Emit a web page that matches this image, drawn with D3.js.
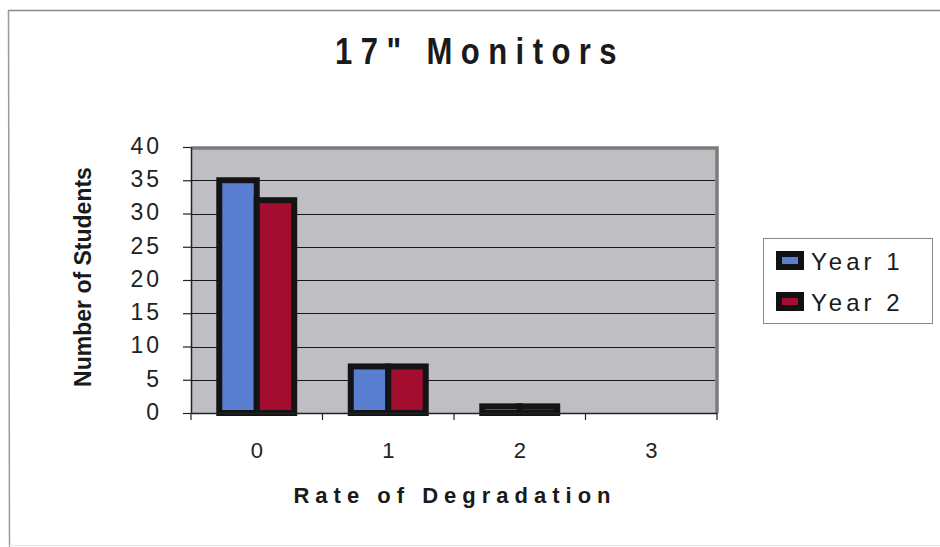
<!DOCTYPE html>
<html>
<head>
<meta charset="utf-8">
<script src="https://cdn.jsdelivr.net/npm/d3@7"></script>
<style>
  html, body { margin: 0; padding: 0; background: #fff; }
  svg { display: block; }
</style>
</head>
<body>
<svg id="chart" width="940" height="547"></svg>
<script>
// Rate of degradation categories and student counts per year
const categories = ["0", "1", "2", "3"];
const seriesNames = ["Year 1", "Year 2"];
const year1 = [35, 7, 1, 0];
const year2 = [32, 7, 1, 0];
const yTicks = [0, 5, 10, 15, 20, 25, 30, 35, 40];

const colors = { "Year 1": "#5a7fd2", "Year 2": "#a30e30" };

const svg = d3.select("#chart");
const W = 940, H = 547;
const plot = { left: 191, right: 717, top: 147, bottom: 413 };

// outer chart frame (top and left edges visible)
svg.append("line").attr("x1", 8).attr("x2", W).attr("y1", 10.5).attr("y2", 10.5)
  .attr("stroke", "#8a8a8a").attr("stroke-width", 1.5);
svg.append("line").attr("x1", 8.5).attr("x2", 9.5).attr("y1", 10).attr("y2", H)
  .attr("stroke", "#9a9a9a").attr("stroke-width", 1.5);
svg.append("line").attr("x1", 9).attr("x2", W).attr("y1", 545.5).attr("y2", 545.5)
  .attr("stroke", "#e4e4e4").attr("stroke-width", 1);

const x0 = d3.scaleBand().domain(categories).range([plot.left, plot.right]).paddingInner(0).paddingOuter(0);
const groupW = x0.bandwidth() * 0.57;
const x1 = d3.scaleBand().domain(seriesNames).range([0, groupW]);
const y = d3.scaleLinear().domain([0, 40]).range([plot.bottom, plot.top]);

// plot background
svg.append("rect")
  .attr("x", plot.left).attr("y", plot.top)
  .attr("width", plot.right - plot.left).attr("height", plot.bottom - plot.top)
  .attr("fill", "#bfbec3");

// horizontal gridlines
svg.append("g").selectAll("line")
  .data(yTicks.filter(t => t > 0 && t < 40))
  .join("line")
  .attr("x1", plot.left).attr("x2", plot.right - 2)
  .attr("y1", d => Math.round(y(d)) + 0.5).attr("y2", d => Math.round(y(d)) + 0.5)
  .attr("stroke", "#1a1a1a").attr("stroke-width", 1.2);

// darker frame on top and right of the plot area
svg.append("path")
  .attr("d", `M${plot.left},${plot.top + 1} H${plot.right} V${plot.bottom}`)
  .attr("fill", "none").attr("stroke", "#7c7c7c").attr("stroke-width", 3.5);

// bars
const rows = categories.map((c, i) => ({ cat: c, values: [
  { name: "Year 1", value: year1[i] },
  { name: "Year 2", value: year2[i] }
]}));

const groups = svg.append("g").selectAll("g")
  .data(rows).join("g")
  .attr("transform", d => `translate(${x0(d.cat) + (x0.bandwidth() - groupW) / 2},0)`);

groups.selectAll("rect")
  .data(d => d.values.filter(v => v.value > 0))
  .join("rect")
  .attr("x", d => x1(d.name))
  .attr("width", x1.bandwidth())
  .attr("y", d => y(d.value))
  .attr("height", d => y(0) - y(d.value))
  .attr("fill", d => colors[d.name])
  .attr("stroke", "#141414")
  .attr("stroke-width", 6);

// y axis
const yAxis = svg.append("g")
  .attr("transform", `translate(${plot.left},0)`)
  .call(d3.axisLeft(y).tickValues(yTicks).tickSize(8).tickPadding(21).tickSizeOuter(0));
yAxis.select(".domain").attr("stroke", "#222").attr("stroke-width", 1.5);
yAxis.selectAll(".tick line").attr("stroke", "#222").attr("stroke-width", 1.2);
yAxis.selectAll("text")
  .attr("font-family", "Liberation Sans, Arial, sans-serif")
  .attr("font-size", 23).attr("fill", "#222")
  .attr("letter-spacing", "3px")
  .attr("dy", "0.28em");

// x axis
const xAxis = svg.append("g")
  .attr("transform", `translate(0,${plot.bottom})`)
  .call(d3.axisBottom(x0).tickSize(0).tickPadding(29).tickSizeOuter(0));
xAxis.select(".domain").attr("stroke", "#222").attr("stroke-width", 1.5);
xAxis.selectAll("text")
  .attr("font-family", "Liberation Sans, Arial, sans-serif")
  .attr("font-size", 22).attr("fill", "#222");
// tick marks sit on the band boundaries
svg.append("g").selectAll("line")
  .data(categories.concat(["end"]))
  .join("line")
  .attr("x1", (d, i) => plot.left + i * x0.step())
  .attr("x2", (d, i) => plot.left + i * x0.step())
  .attr("y1", plot.bottom).attr("y2", plot.bottom + 7)
  .attr("stroke", "#222").attr("stroke-width", 1.2);

// title, set in a condensed bold face
svg.append("text")
  .attr("transform", "translate(480,64) scale(0.84,1)")
  .attr("text-anchor", "middle")
  .attr("font-family", "Liberation Sans, Arial, sans-serif")
  .attr("font-weight", "bold")
  .attr("font-size", 37)
  .attr("letter-spacing", "10px")
  .attr("fill", "#1a1a1a")
  .text('17" Monitors');

// x axis title
svg.append("text")
  .attr("x", 455).attr("y", 503)
  .attr("text-anchor", "middle")
  .attr("font-family", "Liberation Sans, Arial, sans-serif")
  .attr("font-weight", "bold")
  .attr("font-size", 22)
  .attr("letter-spacing", "6px")
  .attr("fill", "#1a1a1a")
  .text("Rate of Degradation");

// y axis title
svg.append("text")
  .attr("transform", "translate(91,277) rotate(-90)")
  .attr("text-anchor", "middle")
  .attr("font-family", "Liberation Sans, Arial, sans-serif")
  .attr("font-weight", "bold")
  .attr("font-size", 23)
  .attr("fill", "#1a1a1a")
  .text("Number of Students");

// legend
const legend = svg.append("g");
legend.append("rect")
  .attr("x", 763.5).attr("y", 238.5).attr("width", 169).attr("height", 85)
  .attr("fill", "#fff").attr("stroke", "#888").attr("stroke-width", 1);
const items = legend.selectAll("g.item")
  .data(seriesNames).join("g")
  .attr("class", "item")
  .attr("transform", (d, i) => `translate(776,${251 + i * 41})`);
items.append("rect")
  .attr("x", 3).attr("y", 3).attr("width", 22).attr("height", 13)
  .attr("fill", d => colors[d]).attr("stroke", "#111").attr("stroke-width", 6);
items.append("text")
  .attr("x", 35).attr("y", 18.5)
  .attr("font-family", "Liberation Sans, Arial, sans-serif")
  .attr("font-size", 24)
  .attr("letter-spacing", "4px")
  .attr("fill", "#1a1a1a")
  .text(d => d);
</script>
</body>
</html>
